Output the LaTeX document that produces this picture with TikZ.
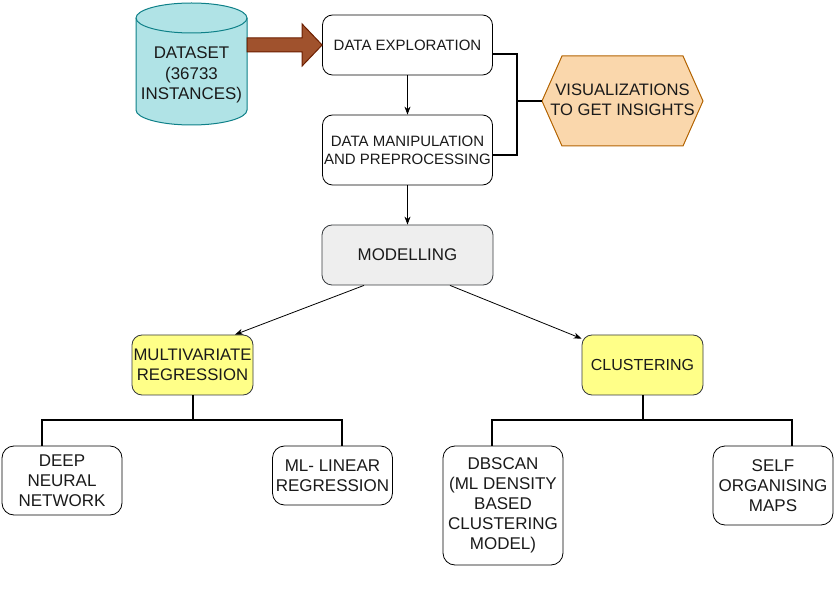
\documentclass[tikz,border=0pt]{standalone}
\usepackage{fontspec}
\setmainfont{Liberation Sans}
\usetikzlibrary{arrows.meta,calc}
\definecolor{cylfill}{HTML}{B0E3E6}
\definecolor{cylline}{HTML}{0E8088}
\definecolor{brownfill}{HTML}{A0522D}
\definecolor{brownline}{HTML}{6D1F00}
\definecolor{hexfill}{HTML}{FAD7AC}
\definecolor{hexline}{HTML}{B46504}
\definecolor{yel}{HTML}{FFFF88}
\definecolor{grayfill}{HTML}{EEEEEE}
\definecolor{darkline}{HTML}{36393D}
\definecolor{txt}{HTML}{1A1A1A}
\begin{document}
\begin{tikzpicture}[x=1pt,y=-1pt,
 box/.style={draw=black,line width=0.8pt,rounded corners=10pt,fill=white,align=center,inner sep=0pt,text=txt},
 topbox/.style={box,minimum width=170pt,font=\fontsize{15}{18}\selectfont},
 leafbox/.style={box,minimum width=120pt,rounded corners=12pt,font=\fontsize{17}{20}\selectfont},
 yelbox/.style={box,fill=yel,draw=darkline,minimum width=121pt,minimum height=60pt,font=\fontsize{16.7}{20}\selectfont},
 thinarrow/.style={line width=0.8pt,-{Stealth[length=8pt,width=6pt]}},
 treeline/.style={line width=2pt},
]
\useasboundingbox[fill=white] (0,0) rectangle (838,593);

% cylinder
\fill[cylfill,draw=cylline,line width=1pt]
  (136,18) -- (136,110) arc[start angle=180,end angle=360,x radius=55.5pt,y radius=15pt]
  -- (247,18) arc[start angle=0,end angle=180,x radius=55.5pt,y radius=15pt] -- cycle;
\draw[cylline,line width=1pt] (136,18) arc[start angle=180,end angle=360,x radius=55.5pt,y radius=15pt];
\node[align=center,inner sep=0pt,text=txt,font=\fontsize{16.9}{20.5}\selectfont] (ds) at (191.5,75) {DATASET\\(36733\\INSTANCES)};

% main boxes
\node[topbox,minimum height=60pt] (dex) at (407.5,45) {DATA EXPLORATION};
\node[topbox,minimum height=70pt] (dmp) at (407.5,150) {DATA MANIPULATION\\AND PREPROCESSING};
\node[box,fill=grayfill,draw=darkline,minimum width=171pt,minimum height=60pt,font=\fontsize{16.9}{20}\selectfont] (mod) at (407.5,255) {MODELLING};

% brown arrow
\draw[fill=brownfill,draw=brownline,line width=1pt] (dex.west) -- ++(-20,-21) -- ++(0,14) -- ++(-55,0) -- ++(0,14) -- ++(55,0) -- ++(0,14) -- cycle;

% hexagon
\draw[fill=hexfill,draw=hexline,line width=1pt] (542,101) -- (562,56) -- (683,56) -- (703,101) -- (683,146) -- (562,146) -- cycle;
\node[align=center,inner sep=0pt,text=txt,font=\fontsize{16.6}{19.5}\selectfont] (viz) at (622.5,100) {VISUALIZATIONS\\TO GET INSIGHTS};
\coordinate (vizw) at (542,101);
\coordinate (brk) at (517,101);

% bracket
\draw[treeline] ([yshift=-9pt]dex.east) -| (brk) |- ([yshift=-5pt]dmp.east);
\draw[treeline] (brk) -- (vizw);

% vertical arrows
\draw[thinarrow] (dex.south) -- (dmp.north);
\draw[thinarrow] (dmp.south) -- (mod.north);

% second level
\node[yelbox] (mvr) at (192.5,365) {MULTIVARIATE\\REGRESSION};
\node[yelbox,font=\fontsize{16}{20}\selectfont] (clu) at (642.5,365) {CLUSTERING};

\draw[thinarrow] ([xshift=-43.5pt]mod.south) -- ([xshift=42.5pt]mvr.north);
\draw[thinarrow] ([xshift=42.5pt]mod.south) -- ([yshift=-4pt]clu.north west);

% leaves
\node[leafbox,minimum height=69pt] (deep) at (62,480.5) {DEEP\\NEURAL\\NETWORK};
\node[leafbox,minimum height=59pt] (mll) at (332.5,475.5) {ML- LINEAR\\REGRESSION};
\node[leafbox,minimum height=119pt] (dbs) at (503,505.5) {DBSCAN\\(ML DENSITY\\BASED\\CLUSTERING\\MODEL)};
\node[leafbox,minimum height=79pt] (som) at (773,485.5) {SELF\\ORGANISING\\MAPS};

\draw[treeline] (mvr.south) -- ++(0,25) -| ([xshift=-20pt]deep.north);
\draw[treeline] (mvr.south) -- ++(0,25) -| ([xshift=9.5pt]mll.north);
\draw[treeline] (clu.south) -- ++(0,25) -| ([xshift=-11pt]dbs.north);
\draw[treeline] (clu.south) -- ++(0,25) -| ([xshift=19pt]som.north);
\end{tikzpicture}
\end{document}
